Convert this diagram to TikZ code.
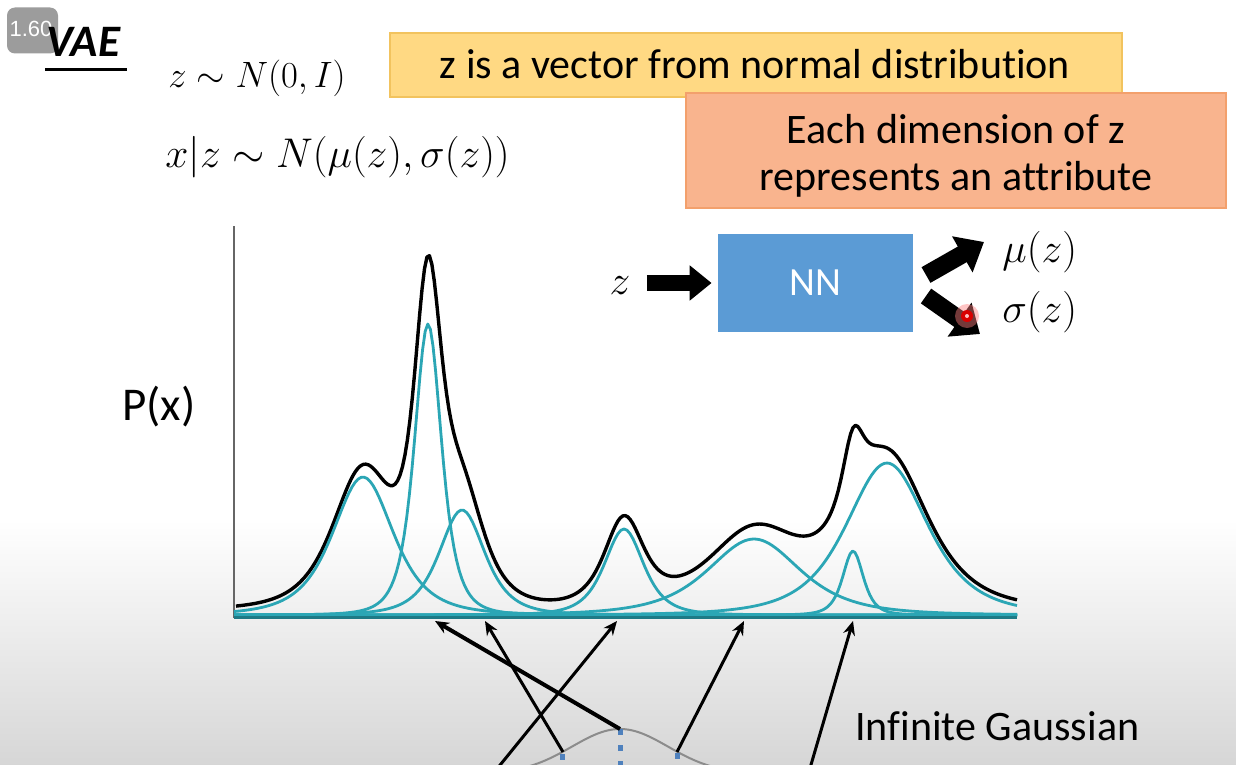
\documentclass[tikz,border=0pt]{standalone}
\usepackage[no-math]{fontspec}
\setmainfont{Carlito}[RawFeature={-liga;-clig}]
\newfontfamily\badgefont{Liberation Sans}
\usetikzlibrary{arrows.meta}
\definecolor{teal1}{HTML}{2BA6B5}
\definecolor{axisteal}{HTML}{1E7A86}
\definecolor{yfill}{HTML}{FFD983}
\definecolor{yline}{HTML}{F2C35E}
\definecolor{ofill}{HTML}{F9B48E}
\definecolor{oline}{HTML}{F3A06C}
\definecolor{nnblue}{HTML}{5B9BD5}
\definecolor{dashblue}{HTML}{4F81BD}
\definecolor{badgegray}{HTML}{9C9C9C}
\begin{document}
\begin{tikzpicture}[x=0.5pt,y=-0.5pt,
  declare function={
    tb(\qx,\qc,\qh,\qw)=\qh*(1/(1+((\qx-\qc)/\qw)^2))^2;
    tot(\qx)=tb(\qx,363,138,56)+tb(\qx,428,291,25)+tb(\qx,462,105,42)+tb(\qx,624,86,36)+tb(\qx,754,76,85)+tb(\qx,853,64,19)+tb(\qx,887,152,75);
  },
  boxtext/.style={font=\fontsize{21}{24}\selectfont, text=black, inner sep=0pt},
  mathtext/.style={inner sep=0pt},
  comp/.style={teal1, line width=1.4pt, line join=round},
  ptr/.style={-{Stealth[length=7pt,width=6pt]}, line width=1.5pt},
  barrow/.style={line width=8pt, -{Triangle[length=11pt,width=17pt]}},
  barrowb/.style={line width=9pt, -{Triangle[length=12.5pt,width=20pt]}},
]
\useasboundingbox (0,0) rectangle (1236,765);
% background
\fill[white] (0,0) rectangle (1236,765);
\shade[top color=white, bottom color=black!16] (0,520) rectangle (1236,765);

% badge and title
\node[fill=badgegray, rounded corners=4pt, minimum width=25.5pt, minimum height=23pt, inner sep=0pt] (badge) at (32.5,30.5) {};
\node[font=\badgefont\fontsize{11}{12}\selectfont, text=white, inner sep=0pt, anchor=base] (badgetxt) at (31,37) {1.60};
\node[font=\bfseries\itshape\fontsize{22.5}{26}\selectfont, inner sep=0pt, anchor=base west] (vae) at (46,57) {VAE};
\draw[line width=1.5pt] (45,70) -- (127,70);

% formulas
\node[mathtext, anchor=base west] (f1) at (168,88) {\scalebox{1.06}{\fontsize{18}{22}\selectfont $z\sim N(0,I)$}};
\node[mathtext, anchor=base west] (f2) at (165,168) {\fontsize{19.5}{23}\selectfont $x|z\sim N\big(\mu(z),\sigma(z)\big)$};

% yellow box
\node[fill=yfill, draw=yline, line width=0.8pt, minimum width=366pt, minimum height=32pt, inner sep=0pt] (ybox) at (756,65) {};
\node[boxtext] (ytext) at (755,64.5) {z is a vector from normal distribution};
% orange box
\node[fill=ofill, draw=oline, line width=0.8pt, minimum width=270pt, minimum height=57.5pt, inner sep=0pt] (obox) at (956,150.5) {};
\node[boxtext, anchor=base] (otext1) at (956,143) {Each dimension of z};
\node[boxtext, anchor=base] (otext2) at (956,191) {represents an attribute};

% NN part
\node[fill=nnblue, minimum width=97.5pt, minimum height=49pt, inner sep=0pt, text=white, font=\fontsize{20}{22}\selectfont] (nn) at (815.5,283) {NN};
\node[mathtext, anchor=base] (zin) at (620,294) {\fontsize{20}{24}\selectfont $z$};
\node[mathtext, anchor=base west] (mu) at (1002,262) {\fontsize{20}{24}\selectfont $\mu(z)$};
\node[mathtext, anchor=base west] (sigma) at (1002,322) {\fontsize{20}{24}\selectfont $\sigma(z)$};
\draw[barrow, shorten <=8pt, shorten >=3pt] (zin.east |- nn.west) -- (nn.west);
\coordinate (mustart) at (926,275);
\coordinate (muend) at (984,242);
\coordinate (sigstart) at (926,296);
\coordinate (sigend) at (980,334);
\draw[barrowb] (mustart) -- (muend);
\draw[barrowb] (sigstart) -- (sigend);
% laser pointer dot
\fill[red!50, opacity=0.45] (967,316) circle (6pt);
\fill[red!85!black] (967,316) circle (3pt);
\fill[red!25] (967,316) circle (1pt);

% axes
\node[font=\fontsize{23.5}{27}\selectfont, inner sep=0pt, anchor=base west] (px) at (122,420) {P(x)};
\coordinate (axtop) at (234,226);
\coordinate (axorig) at (234,618);
\coordinate (axend) at (1017,617);
\draw[black!60, line width=1pt] (axtop) -- (axorig);

% mixture curve
\draw[black, line width=1.7pt, line join=round] plot[domain=236:1017, samples=320] (\x, {610-tot(\x)});
% components
\draw[comp] plot[domain=234:1017, samples=260] (\x, {615-tb(\x,363,138,56)});
\draw[comp] plot[domain=234:1017, samples=300] (\x, {615-tb(\x,428,291,25)});
\draw[comp] plot[domain=234:1017, samples=260] (\x, {615-tb(\x,462,105,42)});
\draw[comp] plot[domain=234:1017, samples=260] (\x, {615-tb(\x,624,86,36)});
\draw[comp] plot[domain=234:1017, samples=260] (\x, {615-tb(\x,754,76,85)});
\draw[comp] plot[domain=234:1017, samples=320] (\x, {615-tb(\x,853,64,19)});
\draw[comp] plot[domain=234:1017, samples=260] (\x, {615-tb(\x,887,152,75)});
\draw[axisteal, line width=1.5pt] (234,617) -- (axend);

% bottom gaussian
\draw[black!45, line width=1pt] plot[domain=512:728, samples=120] (\x, {773.7-44.7*exp(-((\x-620)^2)/4608)});
\draw[dashblue, line width=2.5pt, dash pattern=on 3pt off 5pt] (562,754) -- (562,770);
\draw[dashblue, line width=2.5pt, dash pattern=on 3pt off 5pt] (620,729) -- (620,770);
\draw[dashblue, line width=2.5pt, dash pattern=on 3pt off 5pt] (677,753) -- (677,770);

% arrows to axis
\coordinate (hA) at (435,621);
\coordinate (hB) at (485,621);
\coordinate (hC) at (617,621);
\coordinate (hD) at (744,621);
\coordinate (hE) at (853,621);
\coordinate (tA) at (620,729);
\coordinate (tB) at (563,752);
\coordinate (tC) at (492,775);
\coordinate (tD) at (677,752);
\coordinate (tE) at (808,775);
\draw[ptr, line width=2pt] (tA) -- (hA);
\draw[ptr] (tB) -- (hB);
\draw[ptr] (tC) -- (hC);
\draw[ptr] (tD) -- (hD);
\draw[ptr] (tE) -- (hE);

\node[boxtext, anchor=base west] (inf) at (855,740) {Infinite Gaussian};
\end{tikzpicture}
\end{document}
